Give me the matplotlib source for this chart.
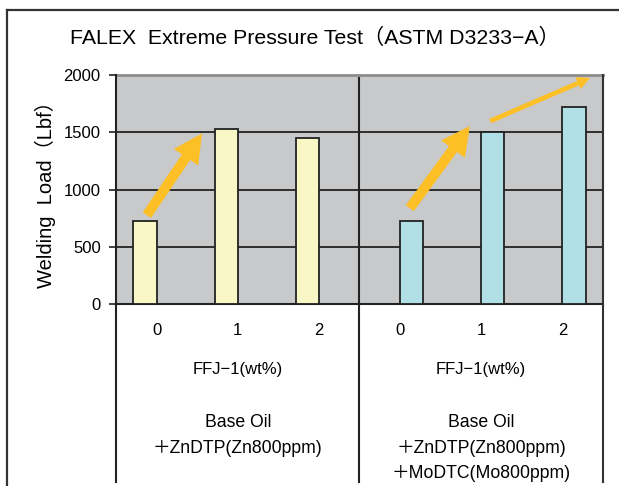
import matplotlib.pyplot as plt
from matplotlib.lines import Line2D
from matplotlib.transforms import blended_transform_factory

plt.rcParams['font.family'] = ['Liberation Sans', 'Noto Sans CJK JP', 'DejaVu Sans']

# data
wt = ['0', '1', '2']
load_zn = [725, 1528, 1450]          # Base oil + ZnDTP
load_znmo = [725, 1500, 1720]        # Base oil + ZnDTP + MoDTC
group_lines = [['Base Oil', '＋ZnDTP(Zn800ppm)'],
               ['Base Oil', '＋ZnDTP(Zn800ppm)', '＋MoDTC(Mo800ppm)']]
xlabel = 'FFJ−1(wt%)'

W, H = 619, 486
fig = plt.figure(figsize=(W / 100, H / 100), dpi=100)
ax = fig.add_axes([116 / W, 1 - 304.3 / H, 487 / W, 229.3 / H])
ax.set_facecolor('#c8c9cb')

n = len(wt)
bw = 0.285
x1 = [i - bw / 2 for i in range(n)]
x2 = [n + i + bw / 2 for i in range(n)]
ax.bar(x1, load_zn, width=bw, color='#f9f7c6', edgecolor='#222222', linewidth=1.3, zorder=3)
ax.bar(x2, load_znmo, width=bw, color='#b0dfe6', edgecolor='#222222', linewidth=1.3, zorder=3)

ax.set_xlim(-0.5, 2 * n - 0.5)
ax.set_ylim(0, 2000)
ax.set_yticks([0, 500, 1000, 1500, 2000])
ax.tick_params(axis='y', length=5, width=1.2, pad=6, labelsize=12, color='#222222')
for v in [500, 1000, 1500]:
    ax.axhline(v, color='#222222', lw=1.3, zorder=1)

ax.set_xticks(range(2 * n))
ax.set_xticklabels(wt + wt, fontsize=12)
ax.tick_params(axis='x', length=0, pad=22)
for t in ax.get_xticklabels():
    t.set_va('baseline')

for s in ['left', 'right']:
    ax.spines[s].set_visible(False)
ax.spines['top'].set_color('#8c8c8c')
ax.spines['top'].set_linewidth(2)
ax.spines['bottom'].set_color('#222222')
ax.spines['bottom'].set_linewidth(1.5)

# vertical separators running down through the label area
ymin = (304.3 - 482) / 229.3
ax.axvline(-0.5, ymin=ymin, ymax=1, color='#222222', lw=1.5, clip_on=False, zorder=4)
ax.axvline(n - 0.5, ymin=ymin, ymax=0.985, color='#222222', lw=1.5, clip_on=False, zorder=4)
ax.axvline(2 * n - 0.5, ymin=ymin, ymax=1, color='#333333', lw=1.5, clip_on=False, zorder=4)

ax.set_ylabel('Welding  Load（Lbf）', fontsize=14.5)
ax.yaxis.label.set_va('center')
ax.yaxis.set_label_coords(-0.146, 0.5)

trans = blended_transform_factory(ax.transData, fig.transFigure)
baselines = [426.5, 453, 478]
for g, lines in enumerate(group_lines):
    cx = g * n + (n - 1) / 2
    ax.text(cx, 1 - 374 / H, xlabel, transform=trans, ha='center', va='baseline', fontsize=12)
    for line, yb in zip(lines, baselines):
        ax.text(cx, 1 - yb / H, line, transform=trans, ha='center', va='baseline', fontsize=12.7)

# trend arrows
arrow_color = '#fdbf26'
big = dict(arrowstyle='simple,head_length=1.03,head_width=1.06,tail_width=0.36',
           color=arrow_color, lw=0, mutation_scale=20, shrinkA=0, shrinkB=0)
small = dict(arrowstyle='simple,head_length=0.47,head_width=0.47,tail_width=0.17',
             color=arrow_color, lw=0, mutation_scale=20, shrinkA=0, shrinkB=0)
ax.annotate('', xy=(0.56, 1490), xytext=(-0.12, 777), arrowprops=big, zorder=5)
ax.annotate('', xy=(3.86, 1555), xytext=(3.12, 838), arrowprops=big, zorder=5)
ax.annotate('', xy=(5.34, 1974), xytext=(4.11, 1598), arrowprops=small, zorder=5)

fig.text(315 / W, 1 - 44.3 / H, 'FALEX  Extreme Pressure Test（ASTM D3233−A）',
         ha='center', va='baseline', fontsize=15.3)

# outer frame (left and top edges)
fig.add_artist(Line2D([7 / W, 7 / W], [0, 1 - 10 / H], color='#333333', lw=1.6))
fig.add_artist(Line2D([7 / W, 1], [1 - 10 / H, 1 - 10 / H], color='#333333', lw=1.6))

fig.savefig('out.png', dpi=100)
